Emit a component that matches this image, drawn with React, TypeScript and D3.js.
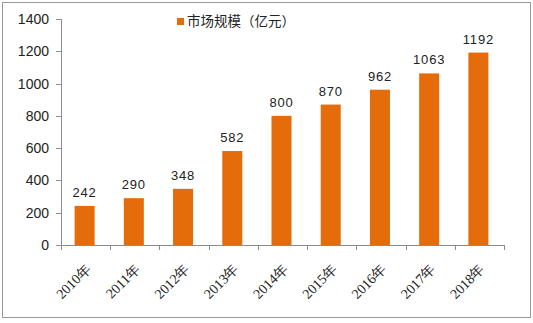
import React from "react";
import * as d3 from "d3";

const categories = ["2010年", "2011年", "2012年", "2013年", "2014年", "2015年", "2016年", "2017年", "2018年"];
const values = [242, 290, 348, 582, 800, 870, 962, 1063, 1192];
const yTicks = [0, 200, 400, 600, 800, 1000, 1200, 1400];
const seriesName = "市场规模（亿元）";

const W = 533;
const H = 323;
const left = 61;
const right = 504;
const top = 19;
const bottom = 245;
const barColor = "#E46C0A";
const axisColor = "#8C8C8C";

export default function App() {
  const x = d3.scaleBand<string>().domain(categories).range([left, right]).paddingInner(0).paddingOuter(0);
  const y = d3.scaleLinear().domain([0, 1400]).range([bottom, top]);
  const barW = 20;
  const bw = x.bandwidth();
  return (
    <svg width={W} height={H} style={{ position: "absolute", left: 0, top: 0 }}>
      <rect x={0} y={0} width={W} height={H} fill="#fff" />
      <rect x={2.5} y={2.5} width={528} height={315} fill="none" stroke="#999" strokeWidth={1} />
      {/* y axis */}
      <line x1={left + 0.5} x2={left + 0.5} y1={top} y2={bottom} stroke={axisColor} />
      {yTicks.map((t) => (
        <g key={t}>
          <line x1={left - 5} x2={left} y1={Math.round(y(t)) + 0.5} y2={Math.round(y(t)) + 0.5} stroke={axisColor} />
          <text x={left - 12} y={y(t)} dy="0.36em" textAnchor="end" fontSize={14} fontFamily="Liberation Sans, Arial, sans-serif" fill="#222">
            {t}
          </text>
        </g>
      ))}
      {/* x axis */}
      <line x1={left} x2={right} y1={bottom + 0.5} y2={bottom + 0.5} stroke={axisColor} />
      {categories.map((c, i) => (
        <line key={"t" + i} x1={Math.round(x(c)!) + 0.5} x2={Math.round(x(c)!) + 0.5} y1={bottom} y2={bottom + 5} stroke={axisColor} />
      ))}
      <line x1={right + 0.5} x2={right + 0.5} y1={bottom} y2={bottom + 5} stroke={axisColor} />
      {/* bars */}
      {categories.map((c, i) => {
        const cx = x(c)! + bw / 2 - 1;
        return (
          <g key={c}>
            <rect x={cx - barW / 2} y={y(values[i])} width={barW} height={bottom - y(values[i])} fill={barColor} />
            <text x={cx} y={y(values[i]) - 9} textAnchor="middle" fontSize={13} letterSpacing={0.8} fontFamily="Liberation Sans, Arial, sans-serif" fill="#222">
              {values[i]}
            </text>
            <text
              transform={`translate(${cx + 7},${bottom + 25}) rotate(-45)`}
              textAnchor="end"
              fontSize={14}
              fontFamily="Liberation Serif, Times New Roman, serif"
              fill="#222"
            >
              {c}
            </text>
          </g>
        );
      })}
      {/* legend */}
      <rect x={177} y={18} width={7} height={7} fill={barColor} />
      <text x={187} y={21.5} dy="0.36em" fontSize={13.5} fontFamily="Noto Sans CJK SC, sans-serif" fill="#222">
        {seriesName}
      </text>
    </svg>
  );
}
